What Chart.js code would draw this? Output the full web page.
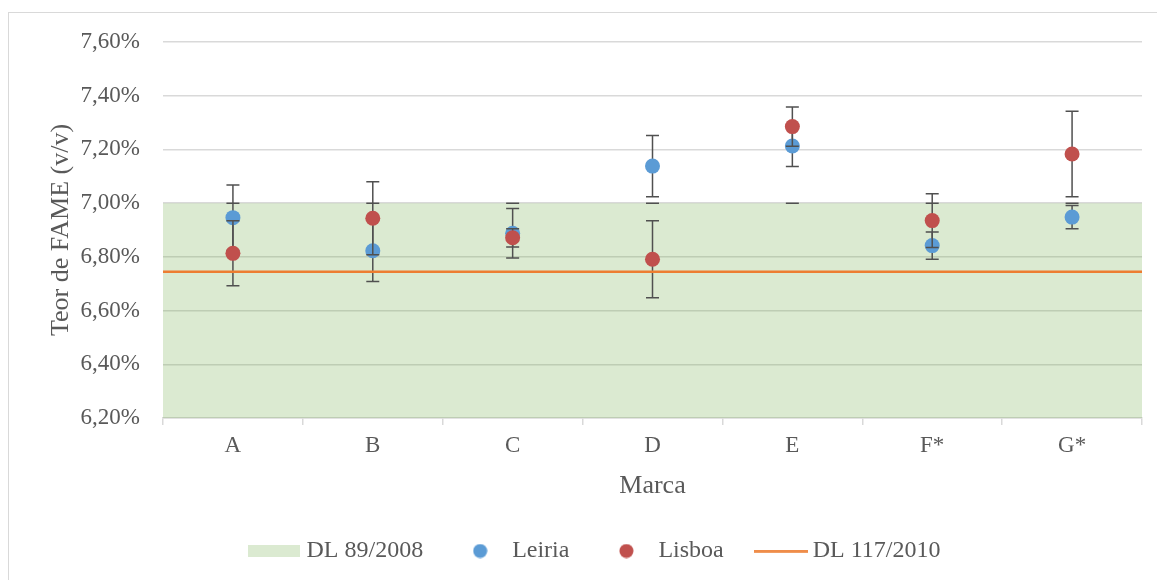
<!DOCTYPE html>
<html lang="pt">
<head>
<meta charset="utf-8">
<title>Teor de FAME por marca</title>
<script src="https://cdn.jsdelivr.net/npm/chart.js@4.4.1/dist/chart.umd.min.js"></script>
<style>
    html, body { margin: 0; padding: 0; background: #FFFFFF; overflow: hidden; }
    .frame {
        position: absolute; left: 8px; top: 12px;
        width: 1200px; height: 620px;
        border-left: 1.5px solid #D9D9D9; border-top: 1.5px solid #D9D9D9;
    }
    #chart { position: absolute; left: 0; top: 0; }
</style>
</head>
<body>
<div class="frame"></div>
<canvas id="chart" width="1157" height="580"></canvas>
<script>
    // === Dados ===
    const categories = ['A', 'B', 'C', 'D', 'E', 'F*', 'G*'];
    const leiria = [6.946, 6.823, 6.888, 7.138, 7.213, 6.842, 6.948];
    const leiriaErr = [0.122, 0.115, 0.092, 0.114, 0.077, 0.051, 0.043];
    const lisboa = [6.813, 6.944, 6.871, 6.791, 7.285, 6.935, 7.183];
    const lisboaErr = [0.121, 0.136, 0.034, 0.143, 0.073, 0.100, 0.159];
    const dl89Top = 7.00;      // limite superior DL 89/2008 (faixa verde)
    const dl117 = 6.745;       // DL 117/2010
    const yRange = [6.20, 7.60];
    const yStep = 0.20;
    const span = [0, 1];       // faixa/linha de ponta a ponta

    const FONT = "'Liberation Serif', 'Times New Roman', serif";
    const TEXT = '#595959';
    const GRID = '#D9D9D9';
    const BLUE = '#5B9BD5';
    const RED = '#C0504D';
    const ORANGE = '#ED7D31';
    const BAND = 'rgba(112,173,71,0.25)';
    const ERR = '#505050';

    // ícones da legenda
    function icon(w, h, draw) {
        const c = document.createElement('canvas');
        c.width = w; c.height = h;
        draw(c.getContext('2d'));
        return c;
    }
    const legendIcons = [
        icon(52, 12, g => { g.fillStyle = BAND; g.fillRect(0, 0, 52, 12); }),
        icon(15, 15, g => { g.fillStyle = BLUE; g.beginPath(); g.arc(7.5, 7.5, 7, 0, Math.PI * 2); g.fill(); }),
        icon(15, 15, g => { g.fillStyle = RED; g.beginPath(); g.arc(7.5, 7.5, 7, 0, Math.PI * 2); g.fill(); }),
        icon(54, 3, g => { g.fillStyle = ORANGE; g.fillRect(0, 0.25, 54, 2.5); })
    ];

    // barras de erro (desenhadas por baixo dos marcadores de cada série)
    function drawCap(ctx, x, y) {
        ctx.moveTo(x - 6.5, y); ctx.lineTo(x + 6.5, y);
    }
    const errorBars = {
        id: 'errorBars',
        beforeDatasetDraw(chart, args) {
            const ds = chart.data.datasets[args.index];
            if (!ds.errors) return;
            const { ctx, scales: { x, y } } = chart;
            ctx.save();
            ctx.strokeStyle = ERR;
            ctx.lineWidth = 1.5;
            ctx.beginPath();
            ds.data.forEach((v, i) => {
                const px = x.getPixelForValue(i);
                const top = y.getPixelForValue(v + ds.errors[i]);
                const bot = y.getPixelForValue(v - ds.errors[i]);
                ctx.moveTo(px, top); ctx.lineTo(px, bot);
                drawCap(ctx, px, top);
                drawCap(ctx, px, bot);
            });
            ctx.stroke();
            ctx.restore();
        },
        afterDatasetDraw(chart, args) {
            const ds = chart.data.datasets[args.index];
            if (!ds.zeroCaps) return;
            const { ctx, scales: { x, y } } = chart;
            ctx.save();
            ctx.strokeStyle = ERR;
            ctx.lineWidth = 1.5;
            ctx.beginPath();
            categories.forEach((c, i) => drawCap(ctx, x.getPixelForValue(i), y.getPixelForValue(dl89Top)));
            ctx.stroke();
            ctx.restore();
        }
    };

    const fmtPct = v => v.toFixed(2).replace('.', ',') + '%';

    // order: valor mais baixo fica por cima
    new Chart(document.getElementById('chart'), {
        type: 'line',
        data: {
            labels: categories,
            datasets: [
                {
                    label: 'DL 89/2008',
                    order: 4,
                    xAxisID: 'xSpan',
                    data: span.map(s => ({ x: s, y: dl89Top })),
                    fill: 'start',
                    backgroundColor: BAND,
                    borderWidth: 0,
                    pointRadius: 0,
                    zeroCaps: true
                },
                {
                    label: 'Leiria',
                    order: 3,
                    data: leiria,
                    errors: leiriaErr,
                    showLine: false,
                    pointRadius: 7.5,
                    pointHoverRadius: 7.5,
                    pointBackgroundColor: BLUE,
                    pointBorderWidth: 0
                },
                {
                    label: 'Lisboa',
                    order: 2,
                    data: lisboa,
                    errors: lisboaErr,
                    showLine: false,
                    pointRadius: 7.5,
                    pointHoverRadius: 7.5,
                    pointBackgroundColor: RED,
                    pointBorderWidth: 0
                },
                {
                    label: 'DL 117/2010',
                    order: 1,
                    xAxisID: 'xSpan',
                    data: span.map(s => ({ x: s, y: dl117 })),
                    borderColor: ORANGE,
                    borderWidth: 2.5,
                    pointRadius: 0,
                    fill: false
                }
            ]
        },
        options: {
            responsive: false,
            animation: false,
            devicePixelRatio: 1,
            events: [],
            layout: { padding: { left: 53, right: 15, top: 42, bottom: 7 } },
            scales: {
                x: {
                    type: 'category',
                    offset: true,
                    grid: { offset: true, drawOnChartArea: false, drawTicks: true, tickLength: 7, color: GRID, lineWidth: 1.5 },
                    border: { display: true, color: GRID, width: 1.5 },
                    ticks: { color: TEXT, padding: 7, font: { family: FONT, size: 23 } },
                    title: { display: true, text: 'Marca', color: TEXT, font: { family: FONT, size: 26 }, padding: { top: 0, bottom: 0 } },
                    afterFit(s) { s.height = 84; }
                },
                xSpan: {
                    type: 'linear',
                    display: false,
                    min: span[0],
                    max: span[1]
                },
                y: {
                    min: yRange[0],
                    max: yRange[1],
                    ticks: { stepSize: yStep, padding: 23, color: TEXT, font: { family: FONT, size: 23 }, callback: v => fmtPct(v) },
                    grid: { color: GRID, lineWidth: 1.5, drawTicks: false },
                    border: { display: false },
                    title: { display: true, text: 'Teor de FAME (v/v)', color: TEXT, font: { family: FONT, size: 26 }, padding: { top: -7, bottom: 0 } },
                    afterFit(s) { s.width = 110; }
                }
            },
            plugins: {
                tooltip: { enabled: false },
                legend: {
                    position: 'bottom',
                    labels: {
                        usePointStyle: true,
                        pointStyleWidth: 40,
                        padding: 37,
                        color: TEXT,
                        font: { family: FONT, size: 24 },
                        generateLabels: chart => chart.data.datasets.map((ds, i) => ({
                            text: ds.label,
                            pointStyle: legendIcons[i],
                            datasetIndex: i,
                            fontColor: TEXT,
                            fillStyle: 'transparent',
                            strokeStyle: 'transparent',
                            lineWidth: 0,
                            hidden: false
                        }))
                    }
                }
            }
        },
        plugins: [errorBars]
    });
</script>
</body>
</html>
